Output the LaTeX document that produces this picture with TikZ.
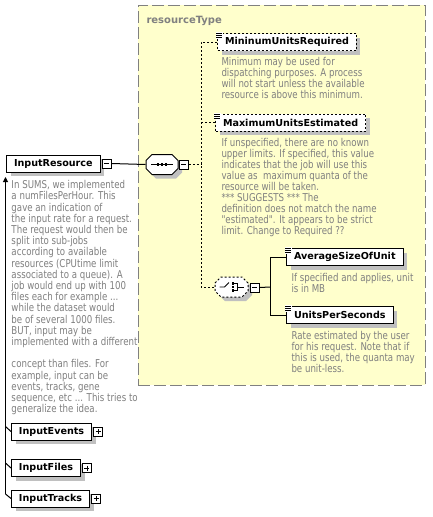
\documentclass[tikz,border=0pt]{standalone}
\usepackage{fontspec}
\setmainfont{DejaVu Sans}
\newfontfamily\descfont[FakeStretch=0.8]{DejaVu Sans}
\usetikzlibrary{shadows,arrows.meta}
\definecolor{bgyellow}{HTML}{FFFFCC}
\definecolor{txtgray}{HTML}{808080}
\definecolor{shadowgray}{HTML}{C0C0C0}
\newcommand{\octshape}[5][]{\path[#1] ({#2},{#3+6}) -- ({#2+6},{#3}) -- ({#4-6},{#3}) -- ({#4},{#3+6}) -- ({#4},{#5-6}) -- ({#4-6},{#5}) -- ({#2+6},{#5}) -- ({#2},{#5-6}) -- cycle;}
\newcommand{\elicon}[1]{%
  \fill[white] ([xshift=-1.5pt,yshift=1pt]#1.north west) rectangle ([xshift=5.5pt,yshift=-5.5pt]#1.north west);
  \foreach \d in {0.5,2.5,4.5}{\draw[line width=0.8pt] ([xshift=-1pt,yshift=-\d pt]#1.north west) -- ([xshift=5pt,yshift=-\d pt]#1.north west);}}
\begin{document}
\begin{tikzpicture}[x=1pt,y=-1pt,line width=1pt,
  shd/.style={drop shadow={shadow xshift=4pt,shadow yshift=-4pt,fill=shadowgray,opacity=1}},
  elem/.style={draw=black,fill=white,inner xsep=7.5pt,inner ysep=0pt,minimum height=17pt,anchor=west,font=\fontsize{9.6}{11}\selectfont\bfseries,shd},
  optelem/.style={elem,dash pattern=on 2pt off 2pt},
  pm/.style={draw=black,fill=white,inner sep=0pt,minimum size=9pt,line width=0.8pt,anchor=west},
  minusbox/.style={pm,path picture={\draw[line width=0.8pt] ([xshift=2pt]path picture bounding box.west) -- ([xshift=-2pt]path picture bounding box.east);}},
  plusbox/.style={pm,path picture={\draw[line width=0.8pt] ([xshift=2pt]path picture bounding box.west) -- ([xshift=-2pt]path picture bounding box.east); \draw[line width=0.8pt] ([yshift=-2pt]path picture bounding box.north) -- ([yshift=2pt]path picture bounding box.south);}},
  desc/.style={anchor=north west,inner sep=0pt,align=left,text=txtgray,font=\descfont\fontsize{10.8}{11}\selectfont},
  conn/.style={draw=black,line width=1pt},
  optconn/.style={conn,dash pattern=on 2pt off 2pt},
  compo/.style={inner sep=0pt,minimum width=32pt,minimum height=20pt}
]
\useasboundingbox (0,0) rectangle (433,517);
\fill[white] (0,0) rectangle (433,517);

% resourceType container
\node[draw=txtgray,fill=bgyellow,dash pattern=on 12pt off 4pt,inner sep=0pt,minimum width=287pt,minimum height=380pt] (rt) at (281.5,195) {};
\node[anchor=base west,inner sep=0pt,text=txtgray,font=\fontsize{10}{12}\selectfont\bfseries] (rttitle) at (146,23) {resourceType};

% InputResource
\node[elem] (ir) at (6,163.5) {InputResource};
\node[minusbox] (irm) at ([xshift=1pt]ir.east) {};
\node[desc,font=\descfont\fontsize{10.8}{11.2}\selectfont] (irdesc) at (11,180) {In SUMS, we implemented\\a numFilesPerHour. This\\gave an indication of\\the input rate for a request.\\The request would then be\\split into sub-jobs\\according to available\\resources (CPUtime limit\\associated to a queue). A\\job would end up with 100\\files each for example ...\\while the dataset would\\be of several 1000 files.\\BUT, input may be\\implemented with a different\\[11.2pt]concept than files. For\\example, input can be\\events, tracks, gene\\sequence, etc ... This tries to\\generalize the idea.};

% sequence compositor
\node[compo] (seq) at (162,164.5) {};
\octshape[fill=shadowgray]{150}{158.5}{182}{178.5}
\octshape[draw=black,fill=white]{146}{154.5}{178}{174.5}
\draw[line width=0.8pt] (151,164.5) -- (173,164.5);
\foreach \dx in {-4,0,4}{\fill ({162+\dx-1.25},163.25) rectangle ({162+\dx+1.25},165.75);}
\node[minusbox] (seqm) at (179,164.5) {};
\draw[conn] (irm.east) -- (seq.west);

% choice compositor
\node[compo,minimum width=33pt] (cho) at (231.5,287) {};
\octshape[fill=shadowgray]{219}{281}{252}{301}
\octshape[draw=black,fill=white,dash pattern=on 2pt off 2pt]{215}{277}{248}{297}
\draw[line width=0.8pt] (219.5,287) -- (224.5,287) -- (229,282.5);
\foreach \dy in {-3.5,0,3.5}{\fill (231.5,{287+\dy-1.2}) rectangle (234,{287+\dy+1.2});}
\draw[line width=0.8pt] (234,283.5) -- (237.5,283.5) -- (237.5,290.5) -- (234,290.5);
\draw[line width=0.8pt] (237.5,287) -- (243.5,287);
\node[minusbox] (chom) at (250,287.5) {};

% sequence children
\node[optelem] (minur) at (217,42) {MininumUnitsRequired};
\elicon{minur}
\node[desc] (minurdesc) at (221,57) {Minimum may be used for\\dispatching purposes. A process\\will not start unless the available\\resource is above this minimum.};

\node[optelem] (maxue) at (215,122.5) {MaximumUnitsEstimated};
\elicon{maxue}
\node[desc] (maxuedesc) at (221,138) {If unspecified, there are no known\\upper limits. If specified, this value\\indicates that the job will use this\\value as\ \ maximum quanta of the\\resource will be taken.\\*** SUGGESTS *** The\\definition does not match the name\\"estimated". It appears to be strict\\limit. Change to Required ??};

\coordinate (spT) at (201,42);
\coordinate (spB) at (201,287);
\draw[optconn] (minur.west) -- (spT) -- (spB) -- (cho.west);
\draw[optconn] (seqm.east) -- (seqm.east -| spT);
\draw[optconn] (maxue.west) -- (maxue.west -| spT);

% choice children
\node[elem] (asou) at (286,257) {AverageSizeOfUnit};
\elicon{asou}
\node[desc] (asoudesc) at (291,273) {If specified and applies, unit\\is in MB};
\node[elem] (ups) at (286,315) {UnitsPerSeconds};
\elicon{ups}
\node[desc] (upsdesc) at (291,331) {Rate estimated by the user\\for his request. Note that if\\this is used, the quanta may\\be unit-less.};
\coordinate (cs) at (270,287);
\draw[conn] (chom.east) -- (cs);
\draw[conn] (asou.west) -- (asou.west -| cs) -- (ups.west -| cs) -- (ups.west);

% InputResource siblings
\node[elem] (ie) at (11,431.5) {InputEvents};
\node[plusbox] (iep) at ([xshift=1pt]ie.east) {};
\node[elem] (if) at (11,468) {InputFiles};
\node[plusbox] (ifp) at ([xshift=1pt]if.east) {};
\node[elem] (it) at (11,498.5) {InputTracks};
\node[plusbox] (itp) at ([xshift=1pt]it.east) {};

\coordinate (mainTop) at (5.5,177);
\coordinate (mainBot) at (5.5,494);
\coordinate (tie) at (5.5,426.5);
\coordinate (tif) at (5.5,463);
\draw[conn,-{Triangle[width=5pt,length=5pt]}] (mainBot) -- (mainTop);
\draw[conn] (tie) -- (ie.west);
\draw[conn] (tif) -- (if.west);
\draw[conn] (mainBot) -- (it.west);
\end{tikzpicture}
\end{document}
